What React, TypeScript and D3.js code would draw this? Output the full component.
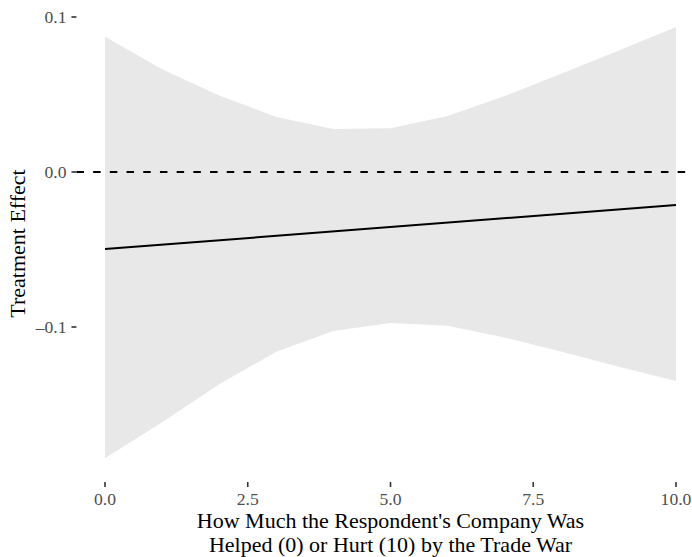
import React from "react";
import * as d3 from "d3";

// Marginal treatment effect across the helped/hurt scale
const xGrid = [0, 1, 2, 3, 4, 5, 6, 7, 8, 9, 10];
const upperCI = [0.0873, 0.0663, 0.0494, 0.0355, 0.0277, 0.0282, 0.0361, 0.049, 0.0636, 0.0784, 0.0935];
const lowerCI = [-0.1847, -0.1615, -0.137, -0.116, -0.1026, -0.0974, -0.0992, -0.1067, -0.116, -0.1256, -0.1348];
const effectX = [0, 10];
const effectY = [-0.0497, -0.0213];

const xTicks = [0, 2.5, 5, 7.5, 10];
const yTicks = [-0.1, 0, 0.1];

const xTitleLines = ["How Much the Respondent's Company Was", "Helped (0) or Hurt (10) by the Trade War"];
const yTitle = "Treatment Effect";

const W = 692;
const H = 557;
const FONT = "'Liberation Serif', 'Times New Roman', serif";

export default function App() {
  const x = d3.scaleLinear().domain([-0.5, 10.5]).range([76.45, 704.55]);
  const y = d3.scaleLinear().domain([-0.1, 0.1]).range([327, 17]);
  const panelLeft = x(-0.5);
  const panelBottom = 482;
  const panelTop = 5;

  const band = d3
    .area<number>()
    .x((_, i) => x(xGrid[i]))
    .y0((_, i) => y(lowerCI[i]))
    .y1((_, i) => y(upperCI[i]));

  const line = d3
    .line<number>()
    .x((_, i) => x(effectX[i]))
    .y((d) => y(d));

  const fmt = d3.format(".1f");
  const yFmt = (v: number) => (v < 0 ? "\u2013" + fmt(-v) : fmt(v));

  return (
    <svg
      width={W}
      height={H}
      style={{ position: "absolute", left: 0, top: 0, background: "#fff" }}
      fontFamily={FONT}
    >
      <path d={band(xGrid) ?? ""} fill="#e8e8e8" />
      <line
        x1={panelLeft}
        x2={W}
        y1={y(0)}
        y2={y(0)}
        stroke="#000"
        strokeWidth={2}
        strokeDasharray="7.5 9.2"
      />
      <path d={line(effectY) ?? ""} fill="none" stroke="#000" strokeWidth={2} />

      {/* y axis */}
      {yTicks.map((t) => (
        <g key={t}>
          <line x1={panelLeft - 5} x2={panelLeft} y1={y(t)} y2={y(t)} stroke="#333" strokeWidth={1.6} />
          <text
            x={panelLeft - 10}
            y={y(t)}
            dy="0.35em"
            textAnchor="end"
            fontSize={17.6}
            fill="#4d4d4d"
          >
            {yFmt(t)}
          </text>
        </g>
      ))}

      {/* x axis */}
      {xTicks.map((t) => (
        <g key={t}>
          <line x1={x(t)} x2={x(t)} y1={panelBottom} y2={panelBottom + 5} stroke="#333" strokeWidth={1.6} />
          <text x={x(t)} y={505} textAnchor="middle" fontSize={17.6} fill="#4d4d4d">
            {fmt(t)}
          </text>
        </g>
      ))}

      {xTitleLines.map((s, i) => (
        <text
          key={s}
          x={(x(-0.5) + x(10.5)) / 2}
          y={528 + i * 24}
          textAnchor="middle"
          fontSize={22}
          fill="#000"
        >
          {s}
        </text>
      ))}

      <text
        transform={`translate(25,${(panelTop + panelBottom) / 2}) rotate(-90)`}
        textAnchor="middle"
        fontSize={22}
        fill="#000"
      >
        {yTitle}
      </text>
    </svg>
  );
}
